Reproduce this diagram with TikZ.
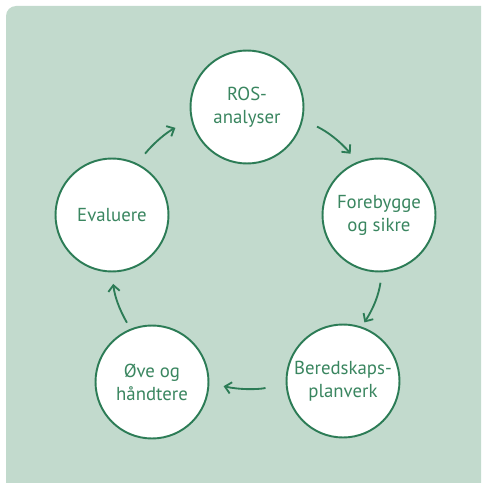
\documentclass[tikz,border=0pt]{standalone}
\usepackage{fontspec}
\setmainfont{PT Sans}
\usetikzlibrary{arrows.meta}

\definecolor{ringgreen}{RGB}{44,124,86}
\definecolor{textgreen}{RGB}{58,134,96}
\definecolor{bggreen}{RGB}{194,218,205}

\tikzset{
  phase/.style={circle, draw=ringgreen, line width=1.1pt, fill=white,
    minimum size=2.26cm, inner sep=0pt, text=textgreen, align=center,
    font=\fontsize{10.7}{13}\selectfont},
  flow/.style={-{Straight Barb[length=3.5pt,width=6.5pt]}, ringgreen, line width=1.05pt},
}

\begin{document}
\begin{tikzpicture}[x=0.02cm,y=-0.02cm]
    \useasboundingbox (0,0) rectangle (481,483);
    % bakgrunn
    \fill[bggreen] (6,483) [rounded corners=0.2cm] -- (6,6) [sharp corners] -- (481,6) -- (481,483) -- cycle;

    % sirklene
    \node[phase] (ros)   at (247,107) {ROS-\\analyser};
    \node[phase] (fore)  at (379,215) {Forebygge\\og sikre};
    \node[phase] (bered) at (343,381) {Beredskaps-\\planverk};
    \node[phase] (ove)   at (152,382) {Øve og\\håndtere};
    \node[phase] (eval)  at (112,215) {Evaluere};

    % pilene rundt
    \draw[flow, shorten <=0.31cm, shorten >=0.21cm] (ros.-13.6) to[bend left=12] (fore.112.8);
    \draw[flow, shorten <=0.21cm, shorten >=0.10cm] (fore.-87.4) to[bend left=12] (bered.71);
    \draw[flow, shorten <=0.41cm, shorten >=0.29cm] (bered.183.7) to[bend left=12] (ove.-1.6);
    \draw[flow, shorten <=0.14cm, shorten >=0.23cm] (ove.112) to[bend left=12] (eval.-90);
    \draw[flow, shorten <=0.25cm, shorten >=0.35cm] (eval.64.2) to[bend left=12] (ros.193.3);
\end{tikzpicture}
\end{document}
